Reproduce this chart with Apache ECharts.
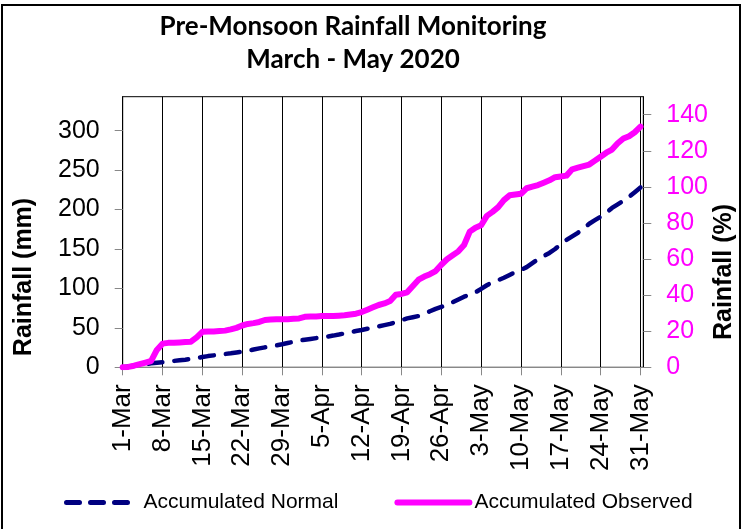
<!DOCTYPE html>
<html>
<head>
<meta charset="utf-8">
<title>Pre-Monsoon Rainfall Monitoring</title>
<script src="https://cdn.jsdelivr.net/npm/echarts@6/dist/echarts.min.js"></script>
<style>
  html, body { margin: 0; padding: 0; background: #fff; }
  #main { width: 744px; height: 529px; }
</style>
</head>
<body>
<div id="main"></div>
<script>
// tick labels along the x axis, one per week (1-Mar .. 31-May)
const weekLabels = ['1-Mar', '8-Mar', '15-Mar', '22-Mar', '29-Mar', '5-Apr', '12-Apr',
  '19-Apr', '26-Apr', '3-May', '10-May', '17-May', '24-May', '31-May'];

// accumulated daily rainfall (mm), day 0 = 1-Mar ... day 91 = 31-May
const accNormal = [
  0, 1, 2, 3, 4, 5, 5.8, 6.5, 7.3, 8.1,
  8.9, 9.7, 10.6, 11.8, 13, 14.2, 15.1, 16, 16.9, 17.8,
  18.8, 19.8, 21, 22.5, 24, 25.3, 26.5, 27.8, 29.2, 30.8,
  32.3, 33.8, 35, 36, 37, 38, 39, 40.2, 41.5, 43,
  44.5, 46, 47.3, 48.8, 50.3, 52, 53.5, 55, 57.3, 59.7,
  62, 63.5, 65, 68, 71, 74, 76.5, 79, 82.5, 86,
  89.5, 92, 95, 99.5, 104, 108, 110.5, 113.5, 117, 120.5,
  123.5, 127, 132, 137, 141, 145, 150, 156, 161.5, 166,
  170.5, 176, 182, 186.5, 191, 196, 202, 206.5, 211, 216,
  222, 228
];
const accObserved = [
  0, 0.5, 2, 4, 6, 8, 22, 30, 31, 31,
  31.5, 32, 32.5, 38, 45, 45.5, 45.5, 46, 46.5, 48,
  50, 53, 55, 56, 57.5, 60, 60.5, 61, 61, 61,
  61.5, 62, 64, 64.5, 64.5, 65, 65, 65, 65.5, 66,
  67, 68, 70, 73, 76, 79, 81, 84, 92, 93,
  95, 103, 111, 115, 118, 122, 130, 137, 142, 147,
  155, 172, 177, 180, 192, 197, 203, 212, 218, 219,
  220, 227, 229, 231, 234, 237, 241, 242, 243, 251,
  253, 255, 257, 262, 267, 272, 276, 284, 290, 293,
  298, 305
];

// left axis ticks (mm) and right axis ticks (% of seasonal normal)
const mmTicks = [0, 50, 100, 150, 200, 250, 300];
const pctTicks = [0, 20, 40, 60, 80, 100, 120, 140];

const seasonNormal = 228.7;           // 100 % on the right axis
const pctMax = 150;
const mmMax = seasonNormal * pctMax / 100;

const weekDays = weekLabels.map((_, i) => i * 7);
const toPairs = arr => arr.map((v, i) => [i, v]);

const chart = echarts.init(document.getElementById('main'));

const axisFont = "'Liberation Sans', Arial, sans-serif";
const normalColor = '#000080';
const observedColor = '#ff00ff';

chart.setOption({
  animation: false,
  backgroundColor: '#fff',
  title: {
    text: 'Pre-Monsoon Rainfall Monitoring\nMarch - May 2020',
    left: 348,
    top: 5,
    textAlign: 'center',
    textStyle: {
      fontFamily: "'Lato', 'Carlito', sans-serif",
      fontWeight: 'bold',
      fontSize: 26,
      lineHeight: 33,
      color: '#000'
    }
  },
  legend: {
    left: 59,
    top: 487,
    itemWidth: 72,
    itemHeight: 14,
    itemGap: 56,
    itemStyle: { opacity: 0 },
    textStyle: { fontFamily: axisFont, fontSize: 21, color: '#000' },
    data: [
      { name: 'Accumulated Normal', lineStyle: { width: 5, type: [13, 11], cap: 'round' } },
      { name: 'Accumulated Observed', lineStyle: { width: 6, cap: 'round' } }
    ]
  },
  grid: {
    left: 122.7,
    right: 100.7,
    top: 96.7,
    bottom: 161.7,
    show: true,
    borderColor: '#000',
    borderWidth: 1
  },
  xAxis: {
    type: 'value',
    min: 0,
    max: 91.5,
    interval: 7,
    axisLine: { lineStyle: { color: '#888', width: 1 } },
    axisTick: { show: true, length: 8, lineStyle: { color: '#888' }, customValues: weekDays },
    splitLine: { show: true, lineStyle: { color: '#000', width: 1 } },
    axisLabel: {
      customValues: weekDays,
      rotate: 90,
      margin: 17,
      fontFamily: axisFont,
      fontSize: 26,
      color: '#000',
      formatter: v => weekLabels[Math.round(v / 7)]
    }
  },
  yAxis: [
    {
      type: 'value',
      min: 0,
      max: mmMax,
      interval: 50,
      position: 'left',
      axisLine: { show: true, lineStyle: { color: '#000' } },
      axisTick: { show: true, length: 8, lineStyle: { color: '#888' }, customValues: mmTicks },
      splitLine: { show: false },
      axisLabel: {
        customValues: mmTicks,
        margin: 23,
        fontFamily: axisFont,
        fontSize: 25,
        color: '#000'
      }
    },
    {
      type: 'value',
      min: 0,
      max: pctMax,
      interval: 20,
      position: 'right',
      axisLine: { show: true, lineStyle: { color: '#000' } },
      axisTick: { show: true, length: 8, lineStyle: { color: '#888' }, customValues: pctTicks },
      splitLine: { show: false },
      axisLabel: {
        customValues: pctTicks,
        margin: 23,
        fontFamily: axisFont,
        fontSize: 25,
        color: observedColor
      }
    }
  ],
  series: [
    {
      name: 'Accumulated Normal',
      type: 'line',
      yAxisIndex: 0,
      symbol: 'none',
      showSymbol: false,
      data: toPairs(accNormal),
      itemStyle: { color: normalColor },
      lineStyle: { color: normalColor, width: 4.5, type: [14, 12], cap: 'round' }
    },
    {
      name: 'Accumulated Observed',
      type: 'line',
      yAxisIndex: 0,
      symbol: 'none',
      showSymbol: false,
      data: toPairs(accObserved),
      itemStyle: { color: observedColor },
      lineStyle: { color: observedColor, width: 6, cap: 'round', join: 'round' }
    }
  ],
  graphic: [
    {
      type: 'rect',
      shape: { x: 2, y: 5, width: 738, height: 540 },
      style: { fill: 'none', stroke: '#000', lineWidth: 2 },
      silent: true
    },
    {
      type: 'text',
      x: 24,
      y: 277,
      rotation: Math.PI / 2,
      style: {
        text: 'Rainfall (mm)',
        font: 'bold 25px ' + axisFont,
        fill: '#000',
        align: 'center',
        verticalAlign: 'middle'
      }
    },
    {
      type: 'text',
      x: 724,
      y: 272,
      rotation: Math.PI / 2,
      style: {
        text: 'Rainfall (%)',
        font: 'bold 25px ' + axisFont,
        fill: '#000',
        align: 'center',
        verticalAlign: 'middle'
      }
    }
  ]
});
</script>
</body>
</html>
